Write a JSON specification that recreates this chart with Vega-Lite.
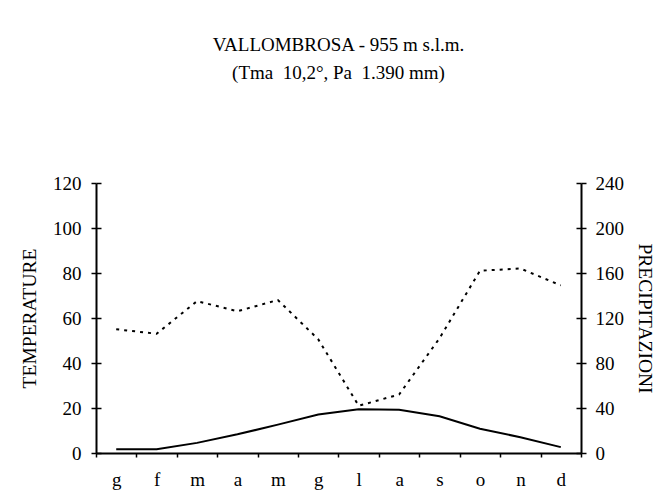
{
  "$schema": "https://vega.github.io/schema/vega-lite/v6.json",
  "width": 485,
  "height": 270,
  "autosize": {"type": "none"},
  "padding": {"left": 96, "top": 183, "right": 82, "bottom": 44},
  "background": "white",
  "title": {
    "text": ["VALLOMBROSA - 955 m s.l.m.", "(Tma \u00a010,2°, Pa \u00a01.390 mm)"],
    "font": "Liberation Serif",
    "fontSize": 19,
    "fontWeight": "normal",
    "color": "black",
    "lineHeight": 28,
    "offset": 91,
    "anchor": "middle"
  },
  "config": {
    "view": {"stroke": null},
    "font": "Liberation Serif",
    "axis": {
      "labelFont": "Liberation Serif",
      "labelFontSize": 19,
      "labelColor": "black",
      "titleFont": "Liberation Serif",
      "titleFontSize": 19.5,
      "titleFontWeight": "normal",
      "titleColor": "black",
      "domainColor": "black",
      "domainWidth": 2,
      "tickColor": "black",
      "tickWidth": 1.5,
      "grid": false
    }
  },
  "data": {
    "values": [
      {"n": 1, "mese": "g", "temp": 1.7, "prec": 110},
      {"n": 2, "mese": "f", "temp": 1.7, "prec": 106},
      {"n": 3, "mese": "m", "temp": 4.5, "prec": 135},
      {"n": 4, "mese": "a", "temp": 8.3, "prec": 126},
      {"n": 5, "mese": "m", "temp": 12.6, "prec": 136},
      {"n": 6, "mese": "g", "temp": 17.1, "prec": 101},
      {"n": 7, "mese": "l", "temp": 19.4, "prec": 42},
      {"n": 8, "mese": "a", "temp": 19.2, "prec": 52},
      {"n": 9, "mese": "s", "temp": 16.3, "prec": 102},
      {"n": 10, "mese": "o", "temp": 10.8, "prec": 162},
      {"n": 11, "mese": "n", "temp": 7.0, "prec": 164},
      {"n": 12, "mese": "d", "temp": 2.6, "prec": 149}
    ]
  },
  "encoding": {
    "x": {
      "field": "n",
      "type": "ordinal",
      "scale": {"type": "band", "paddingInner": 0, "paddingOuter": 0},
      "bandPosition": 0.5,
      "axis": {
        "title": null,
        "labelAngle": 0,
        "tickBand": "extent",
        "tickSize": 4,
        "labelPadding": 13,
        "labelExpr": "['g','f','m','a','m','g','l','a','s','o','n','d'][datum.value - 1]"
      }
    }
  },
  "layer": [
    {
      "mark": {"type": "line", "color": "black", "strokeWidth": 2},
      "encoding": {
        "y": {
          "field": "temp",
          "type": "quantitative",
          "scale": {"domain": [0, 120], "nice": false, "zero": true},
          "axis": {
            "orient": "left",
            "title": "TEMPERATURE",
            "values": [0, 20, 40, 60, 80, 100, 120],
            "tickSize": 5,
            "labelPadding": 10,
            "titlePadding": 13
          }
        }
      }
    },
    {
      "mark": {"type": "line", "color": "black", "strokeWidth": 2, "strokeDash": [3, 5]},
      "encoding": {
        "y": {
          "field": "prec",
          "type": "quantitative",
          "scale": {"domain": [0, 240], "nice": false, "zero": true},
          "axis": {
            "orient": "right",
            "title": "PRECIPITAZIONI",
            "values": [0, 40, 80, 120, 160, 200, 240],
            "tickSize": 5,
            "labelPadding": 9,
            "titlePadding": 11
          }
        }
      }
    },
    {
      "mark": {"type": "line", "strokeOpacity": 0},
      "encoding": {
        "y": {
          "field": "temp",
          "type": "quantitative",
          "scale": {"domain": [0, 120], "nice": false, "zero": true},
          "axis": {
            "orient": "left",
            "title": null,
            "values": [0, 20, 40, 60, 80, 100, 120],
            "tickSize": -5,
            "labels": false,
            "domain": false
          }
        }
      }
    },
    {
      "mark": {"type": "line", "strokeOpacity": 0},
      "encoding": {
        "y": {
          "field": "prec",
          "type": "quantitative",
          "scale": {"domain": [0, 240], "nice": false, "zero": true},
          "axis": {
            "orient": "right",
            "title": null,
            "values": [0, 40, 80, 120, 160, 200, 240],
            "tickSize": -5,
            "labels": false,
            "domain": false
          }
        }
      }
    }
  ],
  "resolve": {"scale": {"y": "independent"}, "axis": {"y": "independent"}}
}
